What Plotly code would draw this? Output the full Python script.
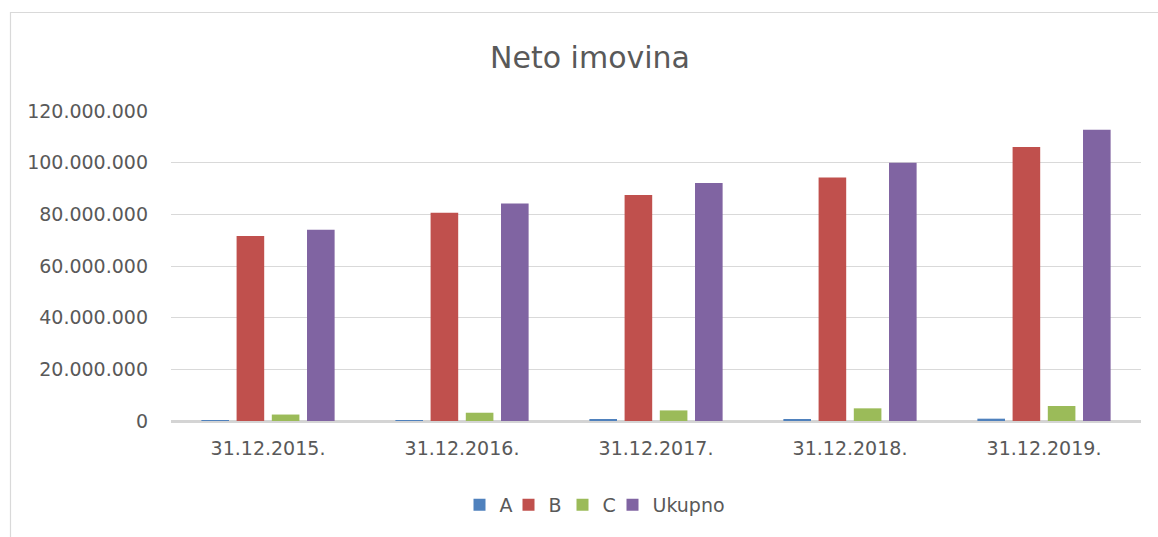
import plotly.graph_objects as go

categories = ["31.12.2015.", "31.12.2016.", "31.12.2017.", "31.12.2018.", "31.12.2019."]
series_names = ["A", "B", "C", "Ukupno"]
values_A = [50000, 200000, 500000, 700000, 900000]
values_B = [71600000, 80600000, 87500000, 94300000, 106100000]
values_C = [2500000, 3200000, 4100000, 4900000, 5800000]
values_Ukupno = [74000000, 84200000, 92100000, 100000000, 112700000]
colors = ["#4F81BD", "#C0504D", "#9BBB59", "#8064A2"]
legend_widths = [4, 9, 5, 75]
y_ticks = [0, 20000000, 40000000, 60000000, 80000000, 100000000, 120000000]

FONT = "DejaVu Sans"
TXT = "#595959"

fig = go.Figure()
for name, vals, col, lw in zip(series_names, [values_A, values_B, values_C, values_Ukupno],
                               colors, legend_widths):
    fig.add_trace(go.Bar(x=categories, y=vals, name=name, marker_color=col,
                         marker_line_width=0, legendwidth=lw))

W, H = 1158, 537
L, R, T, B = 171, 17, 111, 116
pw = W - L - R
ph = H - T - B

def px_x(px):
    return (px - L) / pw

def px_y(py):
    return (H - B - py) / ph

fig.update_layout(
    width=W, height=H,
    margin=dict(l=L, r=R, t=T, b=B, pad=0),
    paper_bgcolor="white", plot_bgcolor="white",
    barmode="group", bargap=0.274, bargroupgap=0.216,
    separators=",.",
    font=dict(family=FONT, color=TXT, size=19),
    title=dict(text="Neto imovina", font=dict(family=FONT, size=30, color=TXT),
               xref="container", x=590 / W, xanchor="center",
               yref="container", y=1 - 57 / H, yanchor="middle"),
    legend=dict(orientation="h", xanchor="center", x=px_x(596),
                yanchor="middle", y=px_y(505),
                font=dict(family=FONT, size=19, color=TXT),
                itemwidth=30, traceorder="normal", bgcolor="rgba(0,0,0,0)"),
    showlegend=True,
    shapes=[dict(type="rect", xref="paper", yref="paper",
                 x0=px_x(10.5), x1=px_x(1175), y0=px_y(560), y1=px_y(12.5),
                 line=dict(color="#d9d9d9", width=1.2), fillcolor="rgba(0,0,0,0)",
                 layer="below")],
)

fig.update_xaxes(showgrid=False, showline=False, zeroline=False,
                 tickfont=dict(family=FONT, size=19, color=TXT),
                 ticks="", ticklabelstandoff=14, fixedrange=True)
fig.update_yaxes(range=[0, 120000000], tickvals=y_ticks, tickformat=",d",
                 showgrid=True, gridcolor="#d9d9d9", gridwidth=1.3,
                 zeroline=True, zerolinecolor="#d4d4d4", zerolinewidth=2.5,
                 showline=False, ticks="", ticklabelstandoff=22,
                 tickfont=dict(family=FONT, size=19, color=TXT), fixedrange=True)

fig.write_html("out.html", config={"displayModeBar": False},
               post_script="document.body.style.margin='0';document.body.style.padding='0';document.body.style.overflow='hidden';")
